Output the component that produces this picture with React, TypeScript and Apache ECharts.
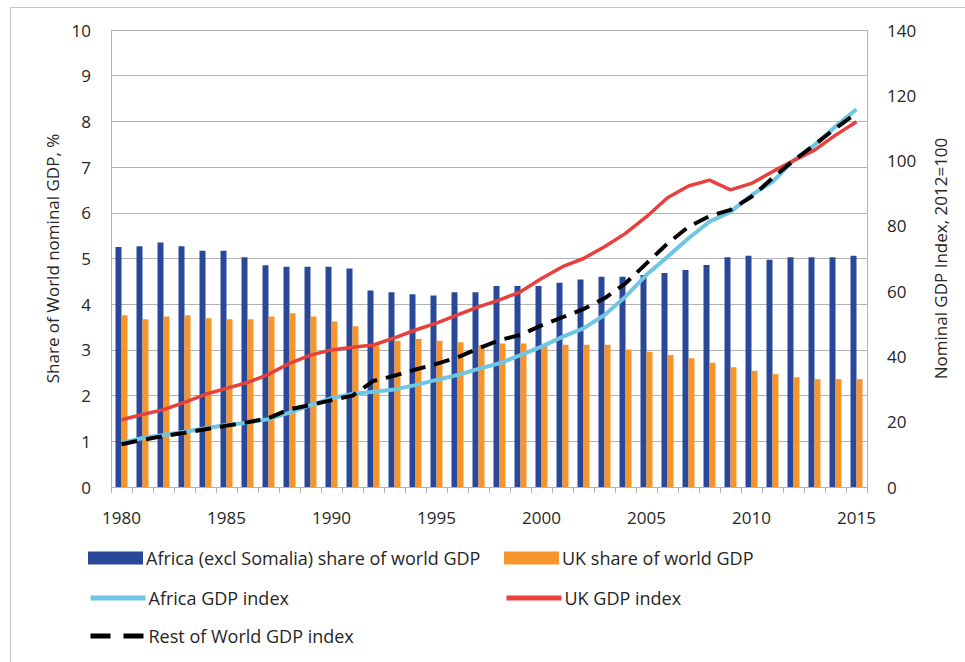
import React, { useEffect, useRef } from "react";
import * as echarts from "echarts";

const years = [
  "1980", "1981", "1982", "1983", "1984", "1985", "1986", "1987", "1988", "1989",
  "1990", "1991", "1992", "1993", "1994", "1995", "1996", "1997", "1998", "1999",
  "2000", "2001", "2002", "2003", "2004", "2005", "2006", "2007", "2008", "2009",
  "2010", "2011", "2012", "2013", "2014", "2015",
];

const africaShare = [
  5.25, 5.27, 5.35, 5.27, 5.17, 5.17, 5.03, 4.85, 4.82, 4.82, 4.82, 4.78,
  4.3, 4.26, 4.22, 4.19, 4.26, 4.26,
  4.4, 4.4, 4.4, 4.47, 4.54, 4.6, 4.6, 4.64, 4.68, 4.75, 4.86,
  5.03, 5.06, 4.97, 5.03, 5.03, 5.03, 5.06,
];

const ukShare = [
  3.76, 3.67, 3.73, 3.76, 3.69, 3.67, 3.67, 3.73, 3.8, 3.73, 3.62, 3.52,
  3.1, 3.2, 3.24, 3.2, 3.17, 3.1,
  3.14, 3.14, 3.11, 3.11, 3.11, 3.11, 3.01, 2.96, 2.89, 2.82, 2.72,
  2.62, 2.54, 2.47, 2.4, 2.36, 2.36, 2.36,
];

const africaIndex = [
  13.5, 15.0, 15.9, 16.9, 18.0, 19.0, 19.7, 20.8, 22.8, 25.1,
  27.2, 28.5, 29.2, 29.9, 31.2, 32.8, 34.3, 36.2, 37.9, 40.4,
  43.0, 46.0, 48.6, 52.7, 58.3, 65.0, 70.5, 76.2, 81.3, 84.3,
  89.4, 93.5, 100, 104.8, 110.4, 115.7,
];

const ukIndex = [
  20.6, 22.2, 23.7, 25.9, 28.4, 30.2, 32.0, 34.5, 37.9, 40.4,
  42.0, 42.8, 43.5, 45.7, 48.1, 50.2, 52.7, 55.2, 57.3, 59.8,
  63.9, 67.5, 70.0, 73.6, 77.7, 82.8, 88.6, 92.2, 94.0, 91.0,
  93.0, 96.6, 100, 103.2, 107.8, 111.9,
];

const rowIndex = [
  13.1, 14.4, 15.6, 16.6, 17.7, 18.8, 19.8, 21.1, 23.8, 25.1,
  26.6, 28.0, 32.5, 34.1, 36.0, 37.7, 39.7, 42.5, 45.0, 46.6,
  49.5, 52.0, 54.5, 57.8, 62.4, 68.5, 74.6, 79.7, 83.0, 84.9,
  88.9, 94.6, 100, 104.8, 109.9, 114.5,
];

const seriesNames = [
  "Africa (excl Somalia) share of world GDP",
  "UK share of world GDP",
  "Africa GDP index",
  "UK GDP index",
  "Rest of World GDP index",
];

const FONT = "Open Sans";
const TXT = "#262626";
const GRID = "#b3b3b3";

export default function App() {
  const ref = useRef<HTMLDivElement>(null);

  useEffect(() => {
    if (!ref.current) return;
    const chart = echarts.init(ref.current, null, { renderer: "svg" });

    const legendBase = {
      itemWidth: 55,
      itemHeight: 13,
      itemGap: 0,
      padding: 0,
      textStyle: { fontSize: 18, fontFamily: FONT, color: TXT, padding: [0, 0, 0, -2] },
    };
    const hiddenSymbol = { color: "rgba(0,0,0,0)", borderColor: "rgba(0,0,0,0)", borderWidth: 0, opacity: 0 };

    chart.setOption({
      animation: false,
      backgroundColor: "#ffffff",
      textStyle: { fontFamily: FONT },
      grid: { left: 111, right: 98, top: 30, bottom: 175, containLabel: false },
      graphic: [
        {
          type: "rect",
          shape: { x: 10.5, y: 7.5, width: 1000, height: 700 },
          style: { fill: "none", stroke: "#c6c6c6", lineWidth: 1 },
          silent: true,
        },
      ],
      legend: [
        { ...legendBase, data: [{ name: seriesNames[0], icon: "rect" }], left: 88, top: 549 },
        { ...legendBase, data: [{ name: seriesNames[1], icon: "rect" }], left: 504, top: 549 },
        {
          ...legendBase,
          data: [{ name: seriesNames[2], itemStyle: hiddenSymbol }],
          lineStyle: { width: 5, color: "#6ec6e2" },
          left: 88,
          top: 589,
        },
        {
          ...legendBase,
          data: [{ name: seriesNames[3], itemStyle: hiddenSymbol }],
          lineStyle: { width: 5, color: "#e8403d" },
          left: 504,
          top: 589,
        },
        {
          ...legendBase,
          data: [{ name: seriesNames[4], itemStyle: hiddenSymbol }],
          lineStyle: { width: 5, color: "#000000", type: [20, 13], cap: "butt" },
          left: 88,
          top: 627,
        },
      ],
      xAxis: {
        type: "category",
        data: years,
        boundaryGap: true,
        axisLine: { show: true, lineStyle: { color: GRID, width: 1 } },
        axisTick: { show: true, interval: 0, length: 6, lineStyle: { color: GRID } },
        axisLabel: {
          interval: 4,
          margin: 22,
          fontSize: 17,
          fontFamily: FONT,
          color: TXT,
        },
        splitLine: { show: false },
      },
      yAxis: [
        {
          type: "value",
          min: 0,
          max: 10,
          interval: 1,
          name: "Share of World nominal GDP, %",
          nameLocation: "middle",
          nameGap: 50,
          nameRotate: 90,
          nameTextStyle: { fontSize: 17, fontFamily: FONT, color: TXT },
          axisLine: { show: true, lineStyle: { color: GRID } },
          axisTick: { show: false },
          axisLabel: { margin: 20, fontSize: 17, fontFamily: FONT, color: TXT },
          splitLine: { show: true, lineStyle: { color: GRID, width: 1 } },
        },
        {
          type: "value",
          min: 0,
          max: 140,
          interval: 20,
          position: "right",
          name: "Nominal GDP Index, 2012=100",
          nameLocation: "middle",
          nameGap: 65,
          nameRotate: 90,
          nameTextStyle: { fontSize: 17, fontFamily: FONT, color: TXT },
          axisLine: { show: true, lineStyle: { color: GRID } },
          axisTick: { show: false },
          axisLabel: { margin: 20, fontSize: 17, fontFamily: FONT, color: TXT },
          splitLine: { show: false },
        },
      ],
      series: [
        {
          name: seriesNames[0],
          type: "bar",
          yAxisIndex: 0,
          data: africaShare,
          barWidth: 6,
          barGap: "0%",
          itemStyle: { color: "#2a4899" },
        },
        {
          name: seriesNames[1],
          type: "bar",
          yAxisIndex: 0,
          data: ukShare,
          barWidth: 6,
          barGap: "0%",
          itemStyle: { color: "#f6952c" },
        },
        {
          name: seriesNames[2],
          type: "line",
          yAxisIndex: 1,
          data: africaIndex,
          symbol: "none",
          lineStyle: { color: "#6ec6e2", width: 4 },
          itemStyle: { color: "#6ec6e2" },
        },
        {
          name: seriesNames[3],
          type: "line",
          yAxisIndex: 1,
          data: ukIndex,
          symbol: "none",
          lineStyle: { color: "#e8403d", width: 3.5 },
          itemStyle: { color: "#e8403d" },
        },
        {
          name: seriesNames[4],
          type: "line",
          yAxisIndex: 1,
          data: rowIndex,
          symbol: "none",
          lineStyle: { color: "#000000", width: 4, type: [16, 9], cap: "butt" },
          itemStyle: { color: "#000000" },
        },
      ],
    });

    return () => chart.dispose();
  }, []);

  return (
    <div
      ref={ref}
      style={{ position: "fixed", left: 0, top: 0, width: 965, height: 662, background: "#fff" }}
    />
  );
}
